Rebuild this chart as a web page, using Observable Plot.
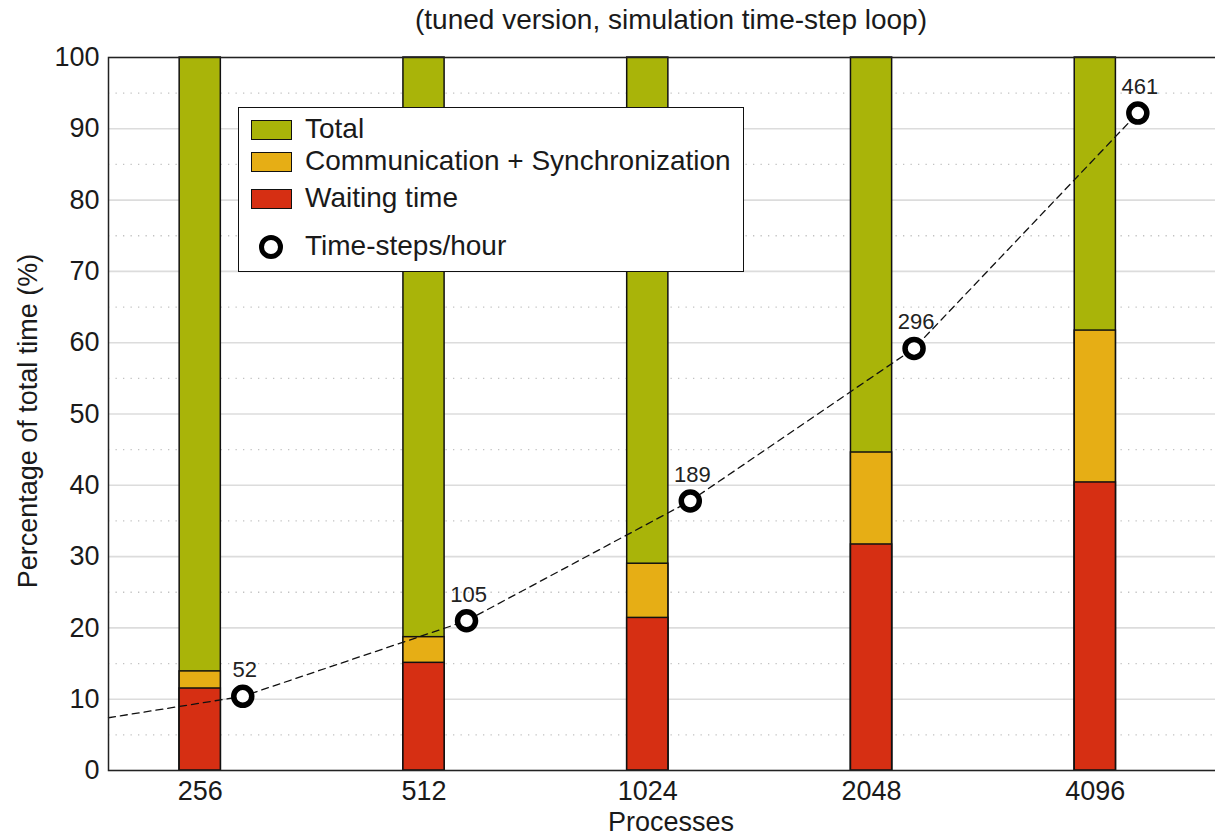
<!DOCTYPE html>
<html>
<head>
<meta charset="utf-8">
<script src="https://cdn.jsdelivr.net/npm/d3@7"></script>
<script src="https://cdn.jsdelivr.net/npm/@observablehq/plot@0.6"></script>
<style>
  html, body { margin: 0; padding: 0; background: #fff; overflow: hidden; }
  #wrap { position: relative; width: 1215px; height: 838px; overflow: hidden;
          font-family: "Liberation Sans", Arial, sans-serif; color: #1a1a1a; }
  #title { height: 40px; line-height: 40px; padding-left: 108px; width: 1126px;
           text-align: center; font-size: 28px; white-space: nowrap; }
  #chart { width: 1234px; }
  #chart svg { display: block; max-width: none !important; }
  .axis-label { position: absolute; font-size: 27px; white-space: nowrap; transform: translate(-50%, -50%); }
  #ylabel { left: 28px; top: 421px; transform: translate(-50%, -50%) rotate(-90deg); }
  #xlabel { left: 671px; top: 822px; }
  #legend { position: absolute; left: 238px; top: 107px; width: 504px; height: 163px;
            border: 1.5px solid #111; background: #fff; font-size: 28px; }
  .row { position: absolute; left: 0; height: 0; }
  .swatch { position: absolute; left: 12px; width: 39px; height: 18px; margin-top: -10.5px;
            border: 1.5px solid #111; }
  .ring { position: absolute; left: 20px; width: 14px; height: 14px; margin-top: -12px;
          border: 5px solid #000; border-radius: 50%; background: #fff; }
  .row span { position: absolute; left: 66px; top: 0; transform: translateY(-52%); white-space: nowrap; }
</style>
</head>
<body>
<div id="wrap">
  <div id="title"></div>
  <div id="chart"></div>
  <div id="ylabel" class="axis-label"></div>
  <div id="xlabel" class="axis-label"></div>
  <div id="legend"></div>
</div>
<script>
// Share of the time-step loop per process count (percent of total time)
const processes   = [256, 512, 1024, 2048, 4096];
const totalPct    = [100, 100, 100, 100, 100];
const commSyncPct = [13.9, 18.7, 29.0, 44.6, 61.7];
const waitingPct  = [11.5, 15.1, 21.4, 31.7, 40.4];

// Throughput, read on the secondary 0–500 time-steps/hour scale
const stepsPerHour   = [52, 105, 189, 296, 461];
const trendLeadSteps = 37;   // dashed trend value where it enters at the left edge
const stepsAxisMax   = 500;

const yTicks = [0, 10, 20, 30, 40, 50, 60, 70, 80, 90, 100];
const yMinor = [5, 15, 25, 35, 45, 55, 65, 75, 85, 95];

const titleText  = "(tuned version, simulation time-step loop)";
const xLabelText = "Processes";
const yLabelText = "Percentage of total time (%)";

const seriesNames  = ["Total", "Communication + Synchronization", "Waiting time"];
const seriesColors = ["#a9b409", "#e6ae15", "#d62f13"];
const markerName   = "Time-steps/hour";

// Layout constants (index units on the x scale)
const xDomain = [-0.41, 4.622];
const barHalf = 0.092;
const markerShift = 0.19;

const rows = processes.map((p, i) => ({
  i, p,
  total: totalPct[i],
  comm: commSyncPct[i],
  wait: waitingPct[i],
  steps: stepsPerHour[i]
}));
const toPct = s => s * 100 / stepsAxisMax;

const trend = [{x: xDomain[0], steps: trendLeadSteps}]
  .concat(rows.map(d => ({x: d.i + markerShift, steps: d.steps})));

const bar = (key, color) => Plot.rectY(rows, {
  x1: d => d.i - barHalf, x2: d => d.i + barHalf,
  y1: 0, y2: key, fill: color, stroke: "#111", strokeWidth: 1.5
});

const chart = Plot.plot({
  width: 1234, height: 798,
  marginTop: 17, marginBottom: 68, marginLeft: 108, marginRight: 0,
  style: {fontFamily: "'Liberation Sans', Arial, sans-serif", fontSize: "27px", color: "#1a1a1a",
          background: "#fff", maxWidth: "none"},
  x: {domain: xDomain, ticks: processes.map((p, i) => i), tickFormat: i => String(processes[i]),
      tickSize: 0, tickPadding: 10, label: null},
  y: {domain: [0, 100], ticks: yTicks, tickSize: 0, tickPadding: 9, label: null},
  marks: [
    Plot.ruleY(yMinor, {stroke: "#c2c2c2", strokeWidth: 1.3, strokeDasharray: "1.3,6.2"}),
    Plot.ruleY(yTicks, {stroke: "#dcdcdc", strokeWidth: 1.6}),
    bar("total", seriesColors[0]),
    bar("comm", seriesColors[1]),
    bar("wait", seriesColors[2]),
    Plot.line(trend, {x: "x", y: d => toPct(d.steps), stroke: "#111", strokeWidth: 1.3, strokeDasharray: "7,5"}),
    Plot.dot(rows, {x: d => d.i + markerShift, y: d => toPct(d.steps), r: 9,
                    fill: "#fff", stroke: "#000", strokeWidth: 5.5}),
    Plot.text(rows, {x: d => d.i + markerShift, y: d => toPct(d.steps), text: d => String(d.steps),
                     dx: 2, dy: -26, fontSize: 22, fill: "#222"}),
    Plot.frame({stroke: "#222", strokeWidth: 1.5})
  ]
});
document.getElementById("chart").appendChild(chart);

document.getElementById("title").textContent = titleText;
document.getElementById("xlabel").textContent = xLabelText;
document.getElementById("ylabel").textContent = yLabelText;

// Legend box
const legend = document.getElementById("legend");
const rowTops = [22, 54, 91, 139];
seriesNames.forEach((name, k) => {
  const r = document.createElement("div");
  r.className = "row";
  r.style.top = rowTops[k] + "px";
  const sw = document.createElement("div");
  sw.className = "swatch";
  sw.style.background = seriesColors[k];
  const t = document.createElement("span");
  t.textContent = name;
  r.appendChild(sw); r.appendChild(t);
  legend.appendChild(r);
});
{
  const r = document.createElement("div");
  r.className = "row";
  r.style.top = rowTops[3] + "px";
  const ring = document.createElement("div");
  ring.className = "ring";
  const t = document.createElement("span");
  t.textContent = markerName;
  r.appendChild(ring); r.appendChild(t);
  legend.appendChild(r);
}
</script>
</body>
</html>
